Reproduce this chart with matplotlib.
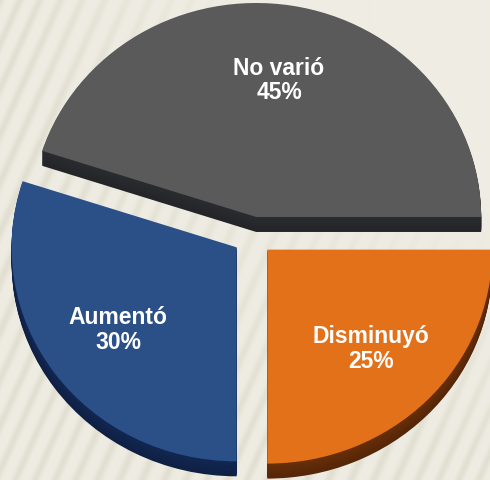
import matplotlib
matplotlib.use("Agg")
import matplotlib.pyplot as plt
import matplotlib.colors as mcolors
import numpy as np

# Datos
categories = ["No varió", "Aumentó", "Disminuyó"]
values = [45, 30, 25]

# Estilo
top_colors = ["#5a5a5a", "#2b5088", "#e2711a"]
side_colors = ["#26282c", "#10234a", "#5e2a08"]
explode = [0.09, 0.09, 0.09]
DEPTH = 0.07           # grosor del "disco" en unidades del pie
N_LAYERS = 16
BG = "#efede3"
W, H = 490, 481

fig = plt.figure(figsize=(W / 100, H / 100), dpi=100, facecolor=BG)

# ── fondo rayado ─────────────────────────────────────────────
bg_ax = fig.add_axes([0, 0, 1, 1])
py, px = np.mgrid[0:H, 0:W].astype(float)
u = px + 0.45 * py
stripes = (0.5 + 0.5 * np.cos(2 * np.pi * u / 21.0 + 0.8 * np.sin(u / 37.0))) ** 2
mask = np.clip(1.1 - 2.0 * (px / W) * (1 - py / H), 0, 1)
base = np.array(mcolors.to_rgb(BG))
dark = np.array(mcolors.to_rgb("#e2dfd2"))
amt = (stripes * mask)[..., None]
img = base * (1 - amt) + dark * amt
bg_ax.imshow(img, aspect="auto", interpolation="bilinear")
bg_ax.axis("off")

# ── pie ──────────────────────────────────────────────────────
ax = fig.add_axes([0, 0, 1, 1])
ax.patch.set_alpha(0)

# lateral: copias desplazadas hacia abajo
for i, off in enumerate(np.linspace(DEPTH, 0, N_LAYERS, endpoint=False)):
    t = i / (N_LAYERS - 1)
    cols = [tuple(np.clip(np.array(mcolors.to_rgb(c)) * (0.9 + 0.2 * t), 0, 1))
            for c in side_colors]
    ax.pie(values, explode=explode, colors=cols, startangle=0,
           counterclock=True, center=(0, -off),
           wedgeprops=dict(linewidth=0))

labels = [f"{c}\n{v}%" for c, v in zip(categories, values)]
wedges, texts = ax.pie(values, explode=explode, colors=top_colors,
                       startangle=0, counterclock=True, labels=labels,
                       labeldistance=0.65,
                       wedgeprops=dict(linewidth=0),
                       textprops=dict(color="white", fontsize=16.5,
                                      fontweight="bold",
                                      family=["Liberation Sans", "DejaVu Sans"],
                                      linespacing=1.1))
for t in texts:
    t.set_horizontalalignment("center")
    t.set_multialignment("center")

ax.set_aspect("auto")
ax.set_xlim(-253 / 225, (W - 253) / 225)
ax.set_ylim(-(H - 237) / 214, 237 / 214)
ax.axis("off")

fig.savefig("out.png", dpi=100, facecolor=BG)
